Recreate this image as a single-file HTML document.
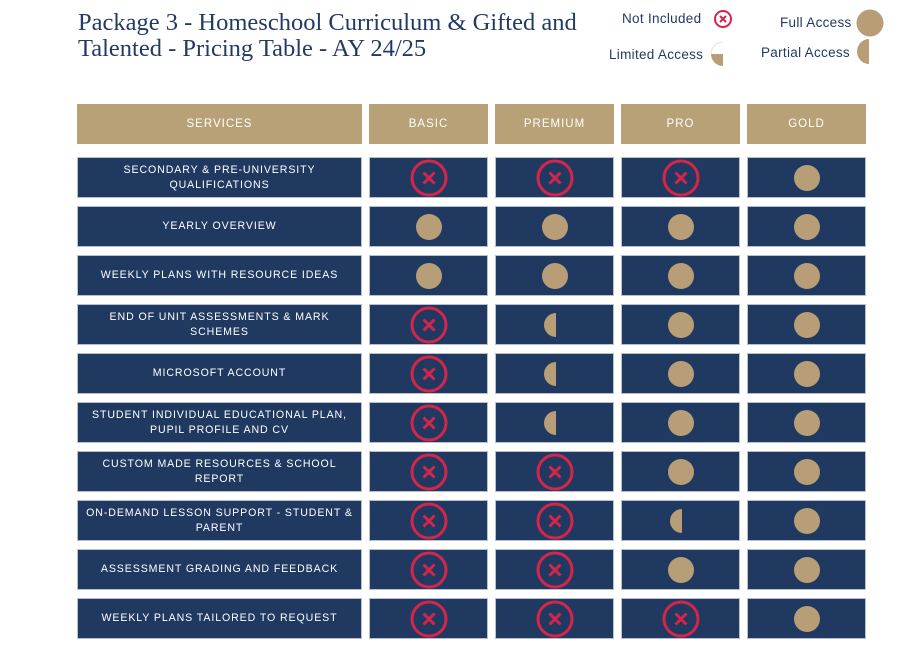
<!DOCTYPE html>
<html><head><meta charset="utf-8"><style>
body{margin:0;width:922px;height:662px;background:#fff;position:relative;overflow:hidden;font-family:"Liberation Sans",sans-serif}
.title{position:absolute;left:78px;top:10px;font-family:"Liberation Serif",serif;font-size:24.5px;line-height:26px;color:#233a63;margin:0;font-weight:normal}
.leg{position:absolute;font-size:13.5px;color:#233a63;letter-spacing:0.3px}
.cell{position:absolute;box-sizing:border-box;display:flex;align-items:center;justify-content:center;text-align:center}
.hdr{background:#b8a077;color:#fff;font-size:11.5px;letter-spacing:1px}
.row{background:#1f3960;color:#fff;font-size:10.6px;letter-spacing:0.9px;line-height:15px;border:1px solid #b7c0d0}
</style></head><body>
<h1 class="title">Package 3 - Homeschool Curriculum &amp; Gifted and<br>Talented - Pricing Table - AY 24/25</h1>
<div class="leg" style="left:622px;top:11px">Not Included</div>
<svg style="position:absolute;left:713px;top:9px" width="20" height="20"><circle cx="10" cy="10" r="8" fill="none" stroke="#d6254a" stroke-width="2"/><path d="M7 7L13 13M13 7L7 13" stroke="#d6254a" stroke-width="2"/></svg>
<div class="leg" style="left:780px;top:15px">Full Access</div>
<svg style="position:absolute;left:856px;top:9px" width="28" height="28"><circle cx="14" cy="14" r="13.5" fill="#b89e76"/></svg>
<div class="leg" style="left:609px;top:47px">Limited Access</div>
<svg style="position:absolute;left:710px;top:42px" width="16" height="26"><path d="M1 12 A12 12 0 0 0 13 24 L13 12 Z" fill="#b89e76"/><path d="M1 12 A12 12 0 0 1 13 0" fill="none" stroke="#e8e0d0" stroke-width="1"/></svg>
<div class="leg" style="left:761px;top:45px">Partial Access</div>
<svg style="position:absolute;left:856px;top:39px" width="14" height="26"><path d="M13 0 A12 12.5 0 0 0 13 25 Z" fill="#b89e76"/></svg>
<div id="tbl"></div>
<script>
const services=["SECONDARY & PRE-UNIVERSITY<br>QUALIFICATIONS","YEARLY OVERVIEW","WEEKLY PLANS WITH RESOURCE IDEAS","END OF UNIT ASSESSMENTS & MARK<br>SCHEMES","MICROSOFT ACCOUNT","STUDENT INDIVIDUAL EDUCATIONAL PLAN,<br>PUPIL PROFILE AND CV","CUSTOM MADE RESOURCES & SCHOOL<br>REPORT","ON-DEMAND LESSON SUPPORT - STUDENT &<br>PARENT","ASSESSMENT GRADING AND FEEDBACK","WEEKLY PLANS TAILORED TO REQUEST"];
const plans=["BASIC","PREMIUM","PRO","GOLD"];
const basic=["x","f","f","x","x","x","x","x","x","x"];
const premium=["x","f","f","p","p","p","x","x","x","x"];
const pro=["x","f","f","f","f","f","f","p","f","x"];
const gold=["f","f","f","f","f","f","f","f","f","f"];
const cols=[basic,premium,pro,gold];
const colX=[369,495,621,747],colW=119;
const tbl=document.getElementById('tbl');
function mk(cls,x,y,w,h,html){const d=document.createElement('div');d.className='cell '+cls;d.style.cssText=`left:${x}px;top:${y}px;width:${w}px;height:${h}px`;d.innerHTML=html;tbl.appendChild(d);return d;}
function icon(t){
 if(t==='x')return '<svg width="40" height="40"><circle cx="20" cy="20" r="17" fill="none" stroke="#d6254a" stroke-width="3"/><path d="M14.5 14.5L25.5 25.5M25.5 14.5L14.5 25.5" stroke="#d6254a" stroke-width="3"/></svg>';
 if(t==='f')return '<svg width="28" height="28"><circle cx="14" cy="14" r="13" fill="#b89e76"/></svg>';
 return '<svg width="28" height="28"><path d="M15 2 A12 12 0 0 0 15 26 Z" fill="#b89e76"/></svg>';
}
let h=mk('hdr',77,104,285,40,'SERVICES');


plans.forEach((p,i)=>{const e=mk('hdr',colX[i],104,colW,40,p);

});
services.forEach((s,r)=>{const y=157+r*49;
 const e=mk('row',77,y,285,41,s);
 
 
 cols.forEach((c,i)=>{const q=mk('row',colX[i],y,colW,41,icon(c[r]));
 
 });
});
</script>
</body></html>
